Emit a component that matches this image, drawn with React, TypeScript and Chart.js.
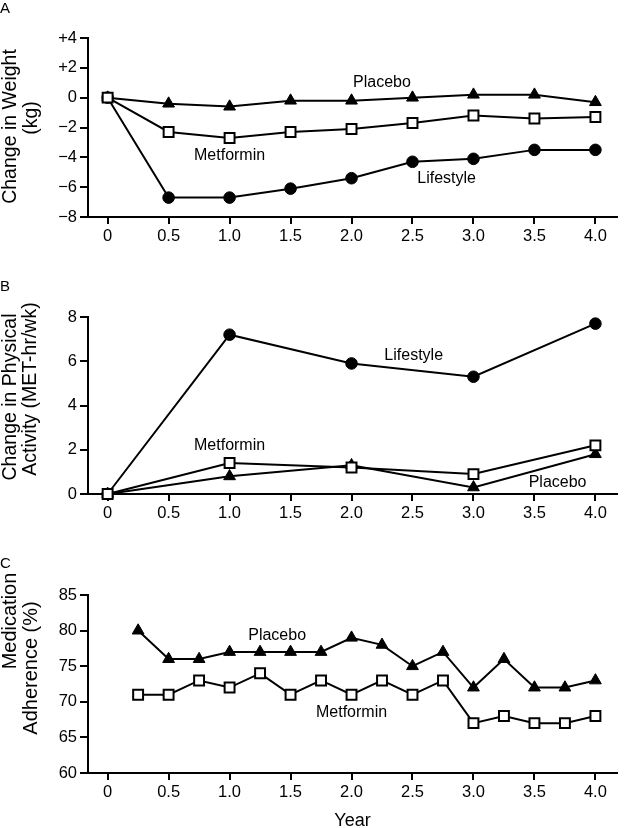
import React, { useEffect, useRef } from "react";
import { Chart, registerables } from "chart.js";

Chart.register(...registerables);

const FONT = '"Liberation Sans", Arial, Helvetica, sans-serif';

// ---- shared x axis ----
const xTicks = [0, 0.5, 1, 1.5, 2, 2.5, 3, 3.5, 4];
const xTickLabels = ["0", "0.5", "1.0", "1.5", "2.0", "2.5", "3.0", "3.5", "4.0"];
const X_MIN = -0.161;
const X_MAX = 4.177;

// ---- Panel A: change in weight ----
const weightYears = [0, 0.5, 1, 1.5, 2, 2.5, 3, 3.5, 4];
const weightPlacebo = [0, -0.4, -0.6, -0.2, -0.2, 0, 0.2, 0.2, -0.3];
const weightMetformin = [0, -2.3, -2.7, -2.3, -2.1, -1.7, -1.2, -1.4, -1.3];
const weightLifestyle = [0, -6.7, -6.7, -6.1, -5.4, -4.3, -4.1, -3.5, -3.5];
const weightTicks = [-8, -6, -4, -2, 0, 2, 4];
const weightTickLabels = ["\u22128", "\u22126", "\u22124", "\u22122", "0", "+2", "+4"];

// ---- Panel B: change in physical activity ----
const activityYears = [0, 1, 2, 3, 4];
const activityLifestyle = [0, 7.2, 5.9, 5.3, 7.7];
const activityMetformin = [0, 1.4, 1.2, 0.9, 2.2];
const activityPlacebo = [0, 0.8, 1.3, 0.3, 1.8];
const activityTicks = [0, 2, 4, 6, 8];
const activityTickLabels = ["0", "2", "4", "6", "8"];

// ---- Panel C: medication adherence ----
const adherenceYears = [0.25, 0.5, 0.75, 1, 1.25, 1.5, 1.75, 2, 2.25, 2.5, 2.75, 3, 3.25, 3.5, 3.75, 4];
const adherencePlacebo = [80, 76, 76, 77, 77, 77, 77, 79, 78, 75, 77, 72, 76, 72, 72, 73];
const adherenceMetformin = [71, 71, 73, 72, 74, 71, 73, 71, 73, 71, 73, 67, 68, 67, 67, 68];
const adherenceTicks = [60, 65, 70, 75, 80, 85];
const adherenceTickLabels = ["60", "65", "70", "75", "80", "85"];

const STYLE = {
  placebo: { pointStyle: "triangle", radius: 6.8, fill: "#000", bw: 1 },
  metformin: { pointStyle: "rect", radius: 7, fill: "#fff", bw: 2 },
  lifestyle: { pointStyle: "circle", radius: 5.8, fill: "#000", bw: 1 },
};

type Series = { key: keyof typeof STYLE; values: number[] };
type Label = { text: string; x: number; y: number };
type TitleLine = { text: string; bx: number; cy: number; size: number };

type PanelDef = {
  letter: string;
  letterTop: number;
  top: number;
  height: number;
  padTop: number;
  xAxisHeight: number;
  xs: number[];
  series: Series[];
  yMin: number;
  yMax: number;
  yTicks: number[];
  yTickLabels: string[];
  labels: Label[];
  titles: TitleLine[];
  xTitle?: string;
};

const panels: PanelDef[] = [
  {
    letter: "A",
    letterTop: 0,
    top: 0,
    height: 260,
    padTop: 38,
    xAxisHeight: 43,
    xs: weightYears,
    series: [
      { key: "metformin", values: weightMetformin },
      { key: "placebo", values: weightPlacebo },
      { key: "lifestyle", values: weightLifestyle },
    ],
    yMin: -8,
    yMax: 4,
    yTicks: weightTicks,
    yTickLabels: weightTickLabels,
    labels: [
      { text: "Placebo", x: 2.25, y: 1.0 },
      { text: "Metformin", x: 1.0, y: -3.87 },
      { text: "Lifestyle", x: 2.78, y: -5.4 },
    ],
    titles: [
      { text: "Change in Weight", bx: 15.5, cy: 126.5, size: 19.5 },
      { text: "(kg)", bx: 37, cy: 118, size: 19.5 },
    ],
  },
  {
    letter: "B",
    letterTop: 278,
    top: 270,
    height: 260,
    padTop: 47,
    xAxisHeight: 36,
    xs: activityYears,
    series: [
      { key: "metformin", values: activityMetformin },
      { key: "placebo", values: activityPlacebo },
      { key: "lifestyle", values: activityLifestyle },
    ],
    yMin: 0,
    yMax: 8,
    yTicks: activityTicks,
    yTickLabels: activityTickLabels,
    labels: [
      { text: "Lifestyle", x: 2.51, y: 6.27 },
      { text: "Metformin", x: 1.0, y: 2.19 },
      { text: "Placebo", x: 3.69, y: 0.51 },
    ],
    titles: [
      { text: "Change in Physical", bx: 15.5, cy: 127, size: 19.5 },
      { text: "Activity (MET-hr/wk)", bx: 36, cy: 119, size: 19.5 },
    ],
  },
  {
    letter: "C",
    letterTop: 555,
    top: 540,
    height: 300,
    padTop: 55,
    xAxisHeight: 67,
    xs: adherenceYears,
    series: [
      { key: "metformin", values: adherenceMetformin },
      { key: "placebo", values: adherencePlacebo },
    ],
    yMin: 60,
    yMax: 85,
    yTicks: adherenceTicks,
    yTickLabels: adherenceTickLabels,
    labels: [
      { text: "Placebo", x: 1.39, y: 79.3 },
      { text: "Metformin", x: 2.0, y: 68.5 },
    ],
    titles: [
      { text: "Medication", bx: 15.5, cy: 81, size: 20 },
      { text: "Adherence (%)", bx: 37, cy: 128, size: 20 },
    ],
    xTitle: "Year",
  },
];

const textPlugin = {
  id: "panelText",
  afterDatasetsDraw(chart: any, _args: any, opts: any) {
    const ctx = chart.ctx as CanvasRenderingContext2D;
    const xs = chart.scales.x;
    const ys = chart.scales.y;
    ctx.save();
    ctx.fillStyle = "#000";
    ctx.textAlign = "center";
    ctx.textBaseline = "middle";
    ctx.font = `16px ${FONT}`;
    for (const l of opts.labels as Label[]) {
      ctx.fillText(l.text, xs.getPixelForValue(l.x), ys.getPixelForValue(l.y));
    }
    for (const t of opts.titles as TitleLine[]) {
      ctx.save();
      ctx.translate(t.bx, t.cy);
      ctx.rotate(-Math.PI / 2);
      ctx.textAlign = "center";
      ctx.textBaseline = "alphabetic";
      ctx.font = `${t.size}px ${FONT}`;
      ctx.fillText(t.text, 0, 0);
      ctx.restore();
    }
    ctx.restore();
  },
};

function makeConfig(p: PanelDef): any {
  return {
    type: "line",
    data: {
      datasets: p.series.map((s) => {
        const st = STYLE[s.key];
        return {
          label: s.key,
          data: p.xs.map((x, i) => ({ x, y: s.values[i] })),
          borderColor: "#000",
          borderWidth: 2,
          tension: 0,
          fill: false,
          clip: false,
          pointStyle: st.pointStyle,
          pointRadius: st.radius,
          pointHoverRadius: st.radius,
          pointBackgroundColor: st.fill,
          pointBorderColor: "#000",
          pointBorderWidth: st.bw,
        };
      }),
    },
    options: {
      responsive: false,
      animation: false,
      devicePixelRatio: 1,
      events: [],
      layout: { padding: { top: p.padTop, left: 0, right: 0, bottom: 0 } },
      plugins: {
        legend: { display: false },
        tooltip: { enabled: false },
        panelText: { labels: p.labels, titles: p.titles },
      },
      scales: {
        x: {
          type: "linear",
          min: X_MIN,
          max: X_MAX,
          afterBuildTicks: (s: any) => {
            s.ticks = xTicks.map((v) => ({ value: v }));
          },
          afterFit: (s: any) => {
            s.height = p.xAxisHeight;
          },
          ticks: {
            autoSkip: false,
            maxRotation: 0,
            padding: 3,
            color: "#000",
            font: { family: FONT, size: 16.5 },
            callback: (_v: any, i: number) => xTickLabels[i],
          },
          grid: {
            display: true,
            drawOnChartArea: false,
            drawTicks: true,
            tickLength: 7,
            color: "#000",
            lineWidth: 2,
          },
          border: { display: true, color: "#000", width: 2 },
          title: p.xTitle
            ? {
                display: true,
                text: p.xTitle,
                color: "#000",
                font: { family: FONT, size: 18, lineHeight: 1.2 },
                padding: { top: 0, bottom: 8 },
              }
            : { display: false },
        },
        y: {
          type: "linear",
          min: p.yMin,
          max: p.yMax,
          afterBuildTicks: (s: any) => {
            s.ticks = p.yTicks.map((v) => ({ value: v }));
          },
          afterFit: (s: any) => {
            s.width = 88;
          },
          ticks: {
            autoSkip: false,
            padding: 3,
            color: "#000",
            font: { family: FONT, size: 16.5 },
            callback: (_v: any, i: number) => p.yTickLabels[i],
          },
          grid: {
            display: true,
            drawOnChartArea: false,
            drawTicks: true,
            tickLength: 8,
            color: "#000",
            lineWidth: 2,
          },
          border: { display: true, color: "#000", width: 2 },
        },
      },
    },
    plugins: [textPlugin],
  };
}

function Panel({ def }: { def: PanelDef }) {
  const ref = useRef<HTMLCanvasElement | null>(null);
  useEffect(() => {
    if (!ref.current) return;
    const chart = new Chart(ref.current, makeConfig(def));
    return () => chart.destroy();
  }, [def]);
  return (
    <>
      <canvas
        ref={ref}
        width={626}
        height={def.height}
        style={{ position: "absolute", left: 0, top: def.top, width: 626, height: def.height, display: "block" }}
      />
      <div
        style={{
          position: "absolute",
          left: 0,
          top: def.letterTop,
          fontFamily: FONT,
          fontSize: 15,
          lineHeight: "15px",
          color: "#000",
        }}
      >
        {def.letter}
      </div>
    </>
  );
}

export default function App() {
  return (
    <div
      style={{
        position: "absolute",
        left: 0,
        top: 0,
        width: 626,
        height: 828,
        overflow: "hidden",
        background: "#fff",
      }}
    >
      {panels.map((p) => (
        <Panel key={p.letter} def={p} />
      ))}
    </div>
  );
}
